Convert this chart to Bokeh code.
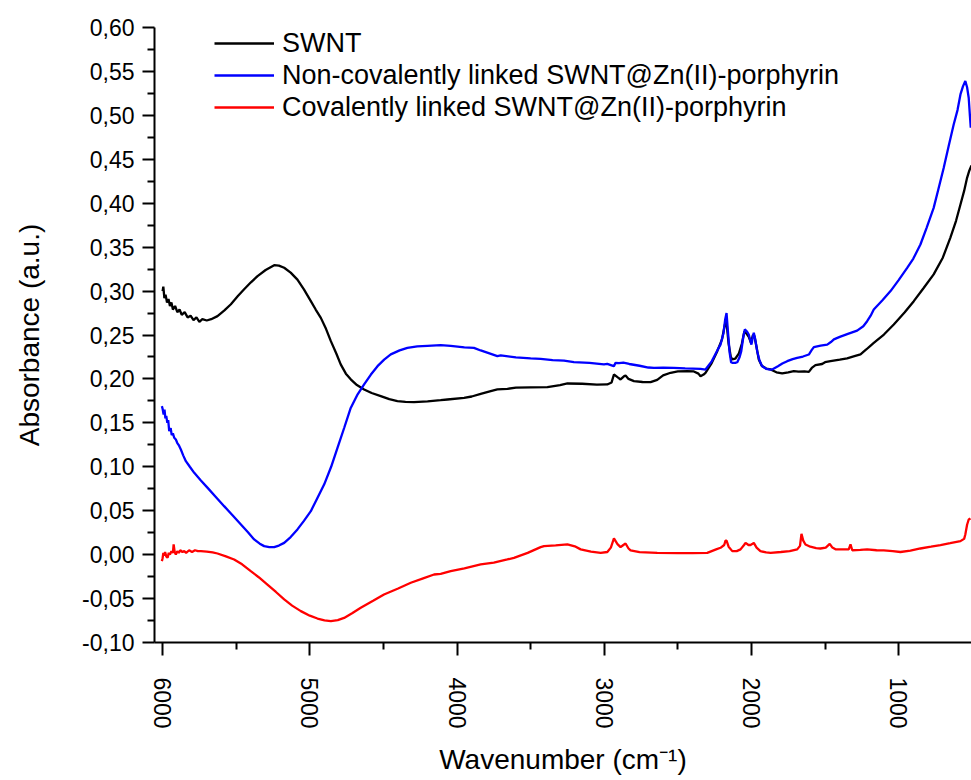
import math

from bokeh.embed import file_html
from bokeh.models import (CustomJSTickFormatter, FixedTicker, Legend,
                          LegendItem, Range1d)
from bokeh.plotting import figure
from bokeh.resources import INLINE

# ---- spectra: wavenumber (cm^-1) and absorbance (a.u.) ----
swnt_wn = [6000, 5995, 5988, 5980, 5970, 5960, 5950, 5940, 5930, 5915, 5900, 5885,
           5870, 5850, 5830, 5810, 5790, 5770, 5750, 5730, 5700, 5670, 5627, 5580,
           5536, 5490, 5446, 5400, 5355, 5300, 5242, 5210, 5174, 5130, 5084, 5040,
           4993, 4960, 4925, 4890, 4857, 4820, 4790, 4755, 4722, 4680, 4631, 4580,
           4518, 4460, 4405, 4350, 4292, 4200, 4111, 4065, 3952, 3900, 3839, 3771,
           3726, 3658, 3600, 3500, 3386, 3300, 3250, 3150, 3050, 2979, 2950, 2934,
           2910, 2889, 2866, 2855, 2835, 2798, 2740, 2685, 2640, 2600, 2549, 2500,
           2436, 2391, 2360, 2346, 2325, 2312, 2270, 2232, 2200, 2180, 2170, 2155,
           2140, 2130, 2110, 2085, 2065, 2048, 2035, 2018, 2003, 1990, 1980, 1965,
           1950, 1930, 1900, 1870, 1830, 1791, 1750, 1712, 1680, 1640, 1610, 1590,
           1565, 1520, 1500, 1463, 1400, 1350, 1300, 1259, 1220, 1190, 1169, 1100,
           1033, 960, 897, 830, 762, 700, 649, 610, 580, 555, 535, 520, 505]
swnt_abs = [0.300, 0.305, 0.292, 0.296, 0.287, 0.291, 0.283, 0.287, 0.279, 0.283, 0.276, 0.279,
            0.273, 0.276, 0.270, 0.272, 0.267, 0.270, 0.265, 0.268, 0.2665, 0.268, 0.2715, 0.278,
            0.285, 0.294, 0.302, 0.310, 0.317, 0.324, 0.3295, 0.329, 0.3265, 0.321, 0.313, 0.302,
            0.2885, 0.279, 0.2695, 0.257, 0.243, 0.229, 0.2165, 0.206, 0.1995, 0.193, 0.188, 0.184,
            0.1805, 0.177, 0.1747, 0.1738, 0.1736, 0.1745, 0.1758, 0.1766, 0.1785, 0.180, 0.183, 0.186,
            0.188, 0.1887, 0.190, 0.1905, 0.1906, 0.193, 0.1948, 0.1945, 0.1935, 0.1937, 0.196, 0.205,
            0.202, 0.1994, 0.203, 0.204, 0.200, 0.1975, 0.1965, 0.1963, 0.199, 0.204, 0.207, 0.2085,
            0.2089, 0.2085, 0.206, 0.203, 0.205, 0.207, 0.218, 0.2316, 0.245, 0.262, 0.266, 0.240,
            0.225, 0.2222, 0.223, 0.229, 0.240, 0.254, 0.252, 0.248, 0.241, 0.250, 0.249, 0.236,
            0.222, 0.215, 0.2118, 0.2108, 0.2075, 0.2062, 0.2075, 0.2089, 0.2082, 0.2085, 0.208, 0.2125,
            0.2157, 0.217, 0.219, 0.2202, 0.222, 0.2235, 0.226, 0.2279, 0.2335, 0.238, 0.241, 0.2505,
            0.262, 0.2755, 0.2885, 0.3035, 0.319, 0.338, 0.3606, 0.380, 0.3986, 0.414, 0.4289, 0.437, 0.443]

noncov_wn = [6005, 6000, 5993, 5987, 5981, 5975, 5968, 5962, 5955, 5945, 5938, 5930,
             5921, 5910, 5900, 5888, 5876, 5860, 5842, 5815, 5785, 5740, 5694, 5640,
             5582, 5525, 5468, 5420, 5378, 5340, 5310, 5275, 5242, 5210, 5174, 5130,
             5084, 5040, 4993, 4950, 4902, 4855, 4812, 4765, 4722, 4675, 4631, 4585,
             4540, 4495, 4450, 4390, 4337, 4270, 4201, 4111, 4043, 3950, 3885, 3839,
             3770, 3726, 3703, 3600, 3500, 3432, 3350, 3273, 3206, 3100, 3002, 2979,
             2950, 2934, 2923, 2900, 2870, 2830, 2760, 2700, 2662, 2600, 2527, 2450,
             2346, 2312, 2270, 2230, 2210, 2190, 2178, 2169, 2160, 2148, 2138, 2130,
             2110, 2096, 2080, 2069, 2055, 2045, 2030, 2018, 2008, 2000, 1990, 1984,
             1975, 1961, 1945, 1927, 1900, 1870, 1859, 1820, 1790, 1757, 1720, 1689,
             1650, 1610, 1590, 1576, 1530, 1485, 1460, 1440, 1400, 1340, 1282, 1240,
             1214, 1190, 1169, 1110, 1055, 1000, 942, 900, 852, 810, 762, 730,
             694, 660, 626, 600, 580, 563, 547, 535, 524, 516, 510]
noncov_abs = [0.169, 0.166, 0.1596, 0.165, 0.155, 0.158, 0.150, 0.153, 0.1406, 0.144, 0.136, 0.138,
              0.133, 0.131, 0.127, 0.124, 0.1197, 0.113, 0.1064, 0.100, 0.0931, 0.0845, 0.076, 0.066,
              0.0552, 0.0448, 0.0344, 0.0255, 0.0173, 0.0125, 0.0097, 0.0085, 0.0085, 0.0103, 0.0134, 0.020,
              0.0287, 0.0385, 0.0495, 0.064, 0.080, 0.100, 0.1216, 0.145, 0.167, 0.1825, 0.1937, 0.205,
              0.2145, 0.222, 0.2279, 0.2325, 0.2354, 0.237, 0.2377, 0.2385, 0.2377, 0.236, 0.2354, 0.2324,
              0.2285, 0.2259, 0.2267, 0.2245, 0.2233, 0.2229, 0.2215, 0.2208, 0.2191, 0.2183, 0.2165, 0.2172,
              0.2155, 0.2145, 0.2183, 0.218, 0.2185, 0.217, 0.215, 0.213, 0.2126, 0.2127, 0.2126, 0.212,
              0.2115, 0.2107, 0.220, 0.233, 0.239, 0.252, 0.268, 0.275, 0.255, 0.230, 0.219, 0.2183,
              0.2183, 0.219, 0.225, 0.2316, 0.248, 0.2563, 0.254, 0.2506, 0.244, 0.239, 0.248, 0.2525,
              0.246, 0.2316, 0.221, 0.2145, 0.2115, 0.2105, 0.2108, 0.2145, 0.2175, 0.2202, 0.2225, 0.224,
              0.2255, 0.2278, 0.233, 0.2362, 0.2378, 0.239, 0.242, 0.245, 0.2478, 0.2515, 0.255, 0.260,
              0.2657, 0.272, 0.279, 0.2895, 0.300, 0.3125, 0.3264, 0.337, 0.353, 0.372, 0.3947, 0.416,
              0.440, 0.465, 0.4896, 0.506, 0.5238, 0.533, 0.539, 0.532, 0.520, 0.500, 0.486]

cov_wn = [6005, 6000, 5995, 5989, 5983, 5975, 5966, 5958, 5950, 5940, 5930, 5925,
          5918, 5910, 5900, 5890, 5880, 5865, 5853, 5840, 5820, 5800, 5780, 5760,
          5740, 5700, 5660, 5627, 5570, 5514, 5460, 5401, 5345, 5288, 5230, 5174,
          5120, 5061, 5000, 4948, 4900, 4857, 4810, 4767, 4710, 4654, 4570, 4496,
          4400, 4314, 4230, 4156, 4111, 4043, 3950, 3839, 3750, 3658, 3613, 3520,
          3432, 3409, 3330, 3250, 3200, 3160, 3090, 3024, 2979, 2955, 2934, 2910,
          2889, 2870, 2855, 2835, 2821, 2760, 2640, 2500, 2400, 2300, 2240, 2210,
          2185, 2176, 2169, 2155, 2130, 2100, 2074, 2050, 2040, 2020, 2006, 1995,
          1984, 1965, 1939, 1900, 1870, 1800, 1740, 1689, 1670, 1660, 1648, 1633,
          1600, 1560, 1531, 1495, 1468, 1450, 1429, 1380, 1339, 1327, 1315, 1260,
          1214, 1150, 1101, 1040, 988, 920, 852, 780, 716, 650, 580, 555,
          547, 535, 524, 512]
cov_abs = [-0.0074, -0.004, 0.002, -0.001, 0.003, -0.002, -0.0036, 0.002, 0.000, 0.004, 0.002, 0.0116,
           0.003, 0.0002, 0.004, 0.002, 0.005, 0.003, 0.004, 0.002, 0.005, 0.003, 0.005, 0.004,
           0.004, 0.0035, 0.0025, 0.0013, -0.002, -0.0055, -0.011, -0.0188, -0.026, -0.034, -0.0425, -0.051,
           -0.058, -0.0643, -0.0695, -0.0727, -0.0748, -0.0757, -0.0745, -0.072, -0.0665, -0.0605, -0.0525, -0.0453,
           -0.0385, -0.032, -0.027, -0.0226, -0.0218, -0.0188, -0.0155, -0.0112, -0.009, -0.0055, -0.0036, 0.002,
           0.0085, 0.0097, 0.0105, 0.0116, 0.0095, 0.006, 0.0035, 0.002, 0.003, 0.008, 0.0184, 0.012,
           0.0085, 0.011, 0.0127, 0.007, 0.0048, 0.0028, 0.002, 0.0018, 0.0018, 0.002, 0.006, 0.0078,
           0.011, 0.016, 0.016, 0.009, 0.004, 0.004, 0.006, 0.011, 0.0134, 0.011, 0.011, 0.012,
           0.0134, 0.008, 0.004, 0.0025, 0.002, 0.003, 0.004, 0.006, 0.010, 0.0237, 0.016, 0.0116,
           0.009, 0.0075, 0.007, 0.008, 0.0123, 0.008, 0.006, 0.006, 0.006, 0.0116, 0.005, 0.0055,
           0.006, 0.005, 0.0048, 0.004, 0.003, 0.0045, 0.007, 0.009, 0.0108, 0.013, 0.0154, 0.018,
           0.023, 0.034, 0.040, 0.0412]

series_labels = ["SWNT",
                 "Non-covalently linked SWNT@Zn(II)-porphyrin",
                 "Covalently linked SWNT@Zn(II)-porphyrin"]
series_colors = ["#000000", "#0000FF", "#FF0000"]

# ---- axis ticks and labels ----
x_ticks = [1000, 2000, 3000, 4000, 5000, 6000]
x_minor = [500, 1500, 2500, 3500, 4500, 5500]
x_tick_labels = ["1000", "2000", "3000", "4000", "5000", "6000"]
y_ticks = [-0.10, -0.05, 0.00, 0.05, 0.10, 0.15, 0.20, 0.25, 0.30, 0.35, 0.40, 0.45, 0.50, 0.55, 0.60]
y_minor = [-0.075, -0.025, 0.025, 0.075, 0.125, 0.175, 0.225, 0.275, 0.325, 0.375, 0.425, 0.475, 0.525, 0.575]
y_tick_labels = ["-0,10", "-0,05", "0,00", "0,05", "0,10", "0,15", "0,20", "0,25",
                 "0,30", "0,35", "0,40", "0,45", "0,50", "0,55", "0,60"]

FONT = "Liberation Sans"

p = figure(width=971, height=780, output_backend="svg", toolbar_location=None,
           x_range=Range1d(6055, 505), y_range=Range1d(-0.10, 0.60),
           min_border_left=154, min_border_right=0, min_border_top=27, min_border_bottom=138)
p.xgrid.visible = False
p.ygrid.visible = False
p.outline_line_color = None
p.background_fill_color = "white"

renderers = []
for wn, ab, col in [(swnt_wn, swnt_abs, series_colors[0]),
                    (noncov_wn, noncov_abs, series_colors[1]),
                    (cov_wn, cov_abs, series_colors[2])]:
    renderers.append(p.line(wn, ab, line_color=col, line_width=2.3))

# pick the label whose tick value is nearest to the requested tick
lookup_code = """
let best = 0;
for (let i = 1; i < tick_values.length; i++) {
  if (Math.abs(tick_values[i] - tick) < Math.abs(tick_values[best] - tick)) best = i;
}
return tick_texts[best];
"""

xa = p.xaxis[0]
xa.ticker = FixedTicker(ticks=x_ticks, minor_ticks=x_minor)
xa.formatter = CustomJSTickFormatter(args=dict(tick_values=x_ticks, tick_texts=x_tick_labels),
                                     code=lookup_code)
xa.axis_label = "Wavenumber (cm\u207b\u00b9)"
xa.major_label_orientation = -math.pi / 2
xa.major_label_standoff = 22
xa.axis_label_standoff = 12

ya = p.yaxis[0]
ya.ticker = FixedTicker(ticks=y_ticks, minor_ticks=y_minor)
ya.formatter = CustomJSTickFormatter(args=dict(tick_values=y_ticks, tick_texts=y_tick_labels),
                                     code=lookup_code)
ya.axis_label = "Absorbance (a.u.)"
ya.major_label_standoff = 8
ya.axis_label_standoff = 34

for ax, tick_len in ((xa, 13), (ya, 12)):
    ax.axis_line_width = 2
    ax.axis_line_color = "black"
    ax.major_tick_line_width = 2
    ax.minor_tick_line_width = 2
    ax.major_tick_line_color = "black"
    ax.minor_tick_line_color = "black"
    ax.major_tick_in = 0
    ax.major_tick_out = tick_len
    ax.minor_tick_in = 0
    ax.minor_tick_out = 7
    ax.major_label_text_font = FONT
    ax.major_label_text_font_size = "23px"
    ax.major_label_text_color = "black"
    ax.axis_label_text_font = FONT
    ax.axis_label_text_font_size = "28px"
    ax.axis_label_text_font_style = "normal"
    ax.axis_label_text_color = "black"

frame_h = 780 - 27 - 138
legend = Legend(items=[LegendItem(label=lbl, renderers=[r]) for lbl, r in zip(series_labels, renderers)],
                location=(60, frame_h - 96))
legend.label_text_font = FONT
legend.label_text_font_size = "27px"
legend.label_text_color = "black"
legend.glyph_width = 60
legend.glyph_height = 32
legend.label_height = 32
legend.label_standoff = 8
legend.spacing = 0
legend.padding = 0
legend.margin = 0
legend.border_line_color = None
legend.background_fill_alpha = 0
p.add_layout(legend)

open("out.html", "w").write(file_html(p, INLINE))
